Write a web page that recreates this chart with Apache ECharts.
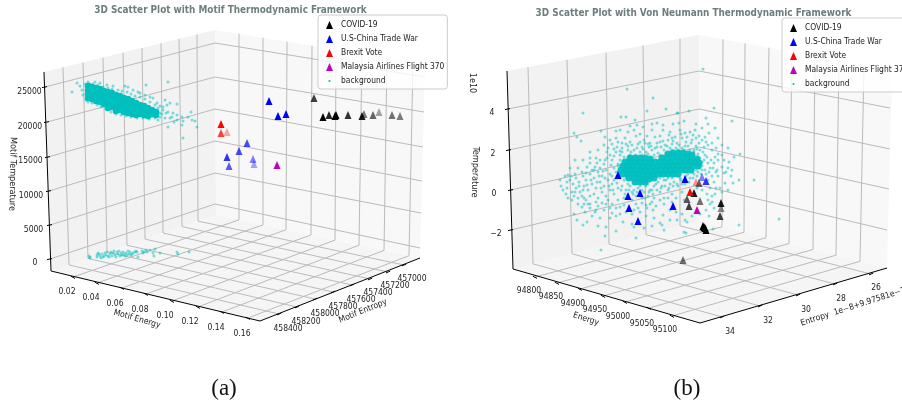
<!DOCTYPE html>
<html><head><meta charset="utf-8">
<style>html,body{margin:0;padding:0;background:#fff;overflow:hidden}#c{width:902px;height:405px}</style>
<script src="https://cdn.jsdelivr.net/npm/echarts@6/dist/echarts.min.js"></script></head>
<body><div id="c"></div>
<script>
// ---------- names and tick labels ----------
const eventNames = ['COVID-19','U.S-China Trade War','Brexit Vote','Malaysia Airlines Flight 370','background'];
const eventColors = ['#000000','#0000ff','#ff0000','#bf00bf','#00bfbf'];
const energyLabelsA = ['0.02','0.04','0.06','0.08','0.10','0.12','0.14','0.16'];
const entropyLabelsA = ['458400','458200','458000','457800','457600','457400','457200','457000'];
const tempLabelsA = ['25000','20000','15000','10000','5000','0'];
const energyLabelsB = ['94800','94850','94900','94950','95000','95050','95100'];
const entropyLabelsB = ['34','32','30','28','26'];
const tempLabelsB = ['4','2','0','\u22122'];

// ---------- values, as [across, down, depth shade] in the view plane ----------
const covidA = [[314,98,.75],[323,117,1],[329,115,.85],[336,115,1],[335,116,1],[348,115,.8],[362,116,.9],[364,114,.5],[373,115,.6],[379,112,.35],[392,115,.55],[400,116,.5]];
const tradeA = [[269,101,1],[278,116,1],[286,114,1],[247,143,.7],[239,151,.7],[227,157,.8],[229,166,.65],[253,159,.5],[254,164,.35]];
const brexitA = [[221,124,1],[221,133,.75],[227,132,.35]];
const mh370A = [[277,165,1]];
const covidB = [[694,193,.9],[687,199,.65],[689,206,.75],[700,201,.55],[699,183,.6],[721,203,.9],[721,208,.45],[720,216,.75],[703,226,1],[705,228,1],[704,227,1],[706,230,1],[683,260,.55]];
const tradeB = [[618,175,1],[628,196,1],[640,193,1],[629,208,1],[638,221,1],[673,206,1],[685,179,1],[702,177,.5],[706,181,.8]];
const brexitB = [[690,192,1],[696,182,.4]];
const mh370B = [[697,210,1]];

const bgCoreA = [[88,86],[88,90],[88,94],[88,98],[92,87],[92,91],[92,95],[92,99],[96,88],[96,92],[96,97],[96,101],[100,89],[100,93],[100,98],[100,102],[104,91],[104,95],[104,100],[104,104],[108,92],[108,96],[108,101],[108,105],[108,108],[112,93],[112,97],[112,103],[112,107],[116,95],[116,100],[116,104],[116,108],[116,111],[120,96],[120,102],[120,106],[120,110],[124,98],[124,104],[124,108],[124,112],[128,99],[128,105],[128,109],[128,113],[132,101],[132,107],[132,111],[132,114],[136,103],[136,108],[136,112],[136,115],[140,105],[140,110],[140,114],[144,106],[144,111],[144,115],[148,108],[148,113],[148,116],[152,110],[152,114],[156,112],[156,115]];
const bgA = [[77,83],[80,86],[72,92],[82,90],[83,95],[88,82],[95,82],[100,83],[107,85],[113,86],[125,86],[128,87],[133,90],[138,92],[146,85],[168,82],[165,100],[167,105],[170,103],[177,104],[163,107],[168,112],[172,117],[177,120],[168,127],[182,117],[183,121],[191,112],[188,117],[195,121],[197,127],[183,138],[192,120],[182,125],[177,115],[173,113],[160,113],[158,108],[157,103],[153,98],[150,97],[145,95],[140,93],[85,84],[90,84],[93,84],[98,85],[103,87],[108,88],[112,89],[118,90],[122,91],[127,92],[131,94],[135,96],[140,97],[145,99],[150,102],[155,105],[160,106],[163,110],[166,113],[170,118],[174,122],[86,100],[88,102],[92,103],[97,105],[101,107],[106,109],[111,112],[116,114],[121,115],[126,116],[131,117],[137,118],[143,118],[149,119],[155,118],[160,117],[165,118],[158,120],[152,116],[157,112],[162,114],
[90,258],[89,256],[90,257],[97,255],[97,257],[98,253],[100,256],[102,254],[103,257],[105,253],[106,255],[107,252],[108,256],[110,254],[111,252],[112,256],[113,253],[115,255],[116,257],[117,252],[118,254],[120,256],[121,253],[122,255],[123,252],[124,254],[126,253],[127,255],[128,251],[129,254],[130,252],[131,255],[133,253],[135,252],[136,251],[137,252],[104,256],[109,257],[114,251],[119,251],[125,256],[132,254],[99,254],[101,258],[138,257],[142,251],[144,252],[146,250],[143,253],[147,252],[150,250],[153,253],[155,249],[154,256],[160,253],[177,252],[178,254],[189,252]];

const bgCoreB = [[668,154],[673,153],[678,153],[683,153],[688,154],[692,155],[630,158],[635,158],[640,158],[645,158],[650,159],[662,158],[667,158],[672,157],[677,157],[682,157],[687,158],[692,158],[697,159],[625,162],[630,162],[635,162],[640,162],[645,163],[650,163],[655,162],[660,162],[665,162],[670,162],[675,162],[680,162],[685,162],[690,162],[695,162],[699,163],[623,166],[628,166],[633,166],[638,166],[643,167],[648,167],[653,167],[658,166],[663,166],[668,166],[673,166],[678,166],[683,166],[688,166],[693,166],[698,166],[621,170],[626,170],[631,170],[636,170],[641,170],[646,171],[651,171],[656,170],[661,170],[666,170],[671,170],[676,170],[681,170],[686,170],[691,170],[623,174],[628,174],[633,174],[638,174],[643,175],[648,175],[653,174],[658,174],[663,174],[668,174],[673,174],[678,174],[629,178],[634,178],[639,178],[644,179],[649,179],[654,178],[635,182],[640,182],[645,182]];
const bgB = [[627,89],[653,98],[583,113],[621,117],[626,117],[647,111],[666,109],[574,133],[577,137],[581,141],[601,131],[605,137],[616,131],[630,126],[637,125],[635,120],[643,127],[652,124],[657,123],[663,130],[670,132],[678,113],[616,138],[625,138],[630,142],[640,142],[647,136],[652,130],[660,136],[672,138],[590,152],[607,152],[617,147],[622,148],[632,145],[642,147],[650,143],[657,143],[665,145],[677,143],[590,163],[587,167],[578,168],[582,172],[568,175],[575,174],[597,163],[605,160],[610,155],[620,155],
[703,69],[714,108],[689,111],[677,113],[706,118],[732,121],[715,128],[709,133],[740,154],[734,157],[729,162],[715,157],[724,173],[725,183],[722,167],[739,180],[754,180],[720,188],[717,170],[714,163],[705,155],[695,130],[685,133],[679,123],[680,130],[690,132],[692,140],[699,143],[704,147],
[739,225],[779,219],[713,229],[710,204],[709,216],[685,220],[687,222],[684,232],[686,233],[677,220],[601,250],[636,238],[616,231],[605,236],[606,227],[598,226],[587,222],[583,225],[577,220],[574,214],[595,212],[585,212],[612,213],[616,216],[623,222],[632,224],[634,227],[660,223],[662,225],[663,215],[647,208],[642,203],[653,210],[582,207],[588,204],[602,203],[620,207],
[570,180],[573,184],[567,188],[576,178],[579,182],[583,176],[586,180],[590,174],[594,178],[598,172],[602,176],[606,170],[610,174],[614,168],[618,164],[572,192],[576,188],[580,192],[584,186],[588,190],[592,184],[596,188],[600,182],[604,186],[608,180],[612,184],[616,178],[578,198],[582,196],[586,200],[590,196],[594,194],[598,198],[602,192],[606,196],[610,190],[614,194],[618,188],[622,186],[626,190],[630,186],[634,190],[638,188],[642,190],[646,186],[650,190],[654,186],[658,182],[662,186],[666,180],[670,184],[674,182],[678,186],[682,184],[686,176],[690,178],[694,174],[698,172],[702,170],[706,174],[710,168],[712,176],[708,163],[704,160],[702,166],[708,180],[714,182],[718,176],[716,188],[710,188],
[604,164],[600,168],[596,158],[612,160],[616,152],[622,152],[628,150],[634,150],[640,152],[646,152],[652,150],[658,153],[664,150],[670,148],[676,148],[682,148],[688,146],[694,150],[700,150],[696,146],[686,142],[672,144],[660,142],[644,140],[636,136],[626,144],[612,144],[608,148],[618,142],[634,130],[648,144],[668,140],[682,138],[696,138],[702,140],[706,142],[712,150],[716,148],[722,155],[726,172],[732,170],[718,160],
[590,204],[596,202],[608,200],[612,204],[618,200],[624,198],[632,200],[636,204],[642,198],[648,196],[654,198],[660,192],[664,198],[668,190],[672,194],[676,198],[682,192],[684,200],[650,204],[656,206],[664,204],[670,210],[676,212],[682,214],[692,216],[700,214],[706,210],[712,196],[714,208],[626,212],[632,214],[640,212],[646,216],[654,218],[620,214],[610,218],[600,218],[592,216],[664,230],[670,220],[652,226],[644,228],[610,208],[604,210],[598,206],[584,198],[574,196],[566,194],[561,186],[570,168],[594,170],[600,160],[612,176],[618,172],[614,180],[620,178],[624,180],[628,184],[632,192],[636,196],[640,186],[644,192],[648,184],[652,190],[656,184],[660,178],[664,180],[668,178],[672,178],[676,176],[680,178],[684,172],[688,174],[692,172],[696,170],[700,168],[702,162],[700,158],[698,154],[694,152],[690,150],[684,150],[678,150],[672,150],[666,153],[660,155],[654,155],[648,154],[642,155],[636,155],[630,155],[624,157],[620,160],[618,166],[616,172],[617,176],[620,174],[626,178],
[631,152],[637,148],[643,149],[649,147],[655,148],[661,147],[667,146],[673,141],[679,145],[685,146],[691,143],[697,149],[703,152],[707,157],[711,160],[713,168],[716,172],[620,151],[614,156],[611,165],[607,158],[603,171],[599,176],[595,167],[591,180],[587,185],[583,190],[579,186],[575,192],[571,176],[567,182],[563,190],[586,173],[592,170],[597,182],[601,188],[605,178],[609,186],[613,190],[617,183],[621,190],[625,194],[629,190],[633,194],[637,192],[641,196],[645,198],[649,192],[653,194],[657,190],[661,188],[665,186],[669,188],[673,186],[677,184],[681,180],[685,184],[689,182],[693,178],[697,176],[701,174],[705,170],[709,172],[638,144],[628,146],[622,143],[614,149],[645,143],[651,146],[657,147],[663,141],[669,135],[675,137],[681,134],[687,137],[693,135],[699,136],[705,137],[708,145],[712,143],[718,154],[724,160],[728,168],[731,176],[733,183],[722,192],[728,190],[715,194],[707,194],[702,190],[697,188],[712,202],[708,200],[668,198],[672,202],[660,200],[652,202],[646,205],[638,208],[634,210],[624,205],[616,208],[606,204],[596,210],[590,208],[584,204],[578,204],[572,200],[568,198],[565,176],[560,180],[575,160],[583,160],[590,158],[598,150],[604,145],[610,140],[620,130],[628,132],[640,134],[655,137],[663,125],[673,124],[684,121],[696,124],[702,128],[708,124],[718,138],[722,145],[728,148]];

// ---------- the drawn box of each panel (view-plane layout, not data) ----------
const boxA = {left:[44,72],back:[215,30],right:[425,64],leftB:[51,271],backB:[216,215],rightB:[420,258],front:[260,321],
  tempL:[[45,87],[47,122],[48,157],[49,191],[50,225],[50,259]],tempM:[[215,43],[215,77],[215,109],[215,141],[215,173],[215,204]],tempR:[[425,77],[424,112],[423,147],[422,181],[421,213],[420,248]],
  entTop:[63,83,103,123,142,161,179,197],entBase:[69,88,107,127,145,163,182,198],entFront:[[279,314],[297,307],[315,299],[333,292],[352,285],[370,279],[388,272],[404,265]],
  enTop:[239,263,287,312,336,362,387,413],enBase:[239,263,286,311,335,359,384,409],enFront:[[73,277],[97,283],[122,288],[146,294],[172,301],[198,307],[222,312],[248,318]]};
const boxB = {left:[507,71],back:[699,35],right:[892,70],leftB:[513,269],backB:[699,221],rightB:[887,268],front:[700,323],
  tempL:[[508,109],[509,150],[511,190],[511,230]],tempM:[[699,71],[699,109],[699,147],[699,185]],tempR:[[890,108],[890,149],[889,189],[887,230]],
  entTop:[528,567,606,643,680],entBase:[533,572,609,646,680],entFront:[[722,317],[760,306],[798,295],[835,284],[871,274]],
  enTop:[723,745,769,792,815,839,864],enBase:[722,744,766,789,813,836,860],enFront:[[535,277],[557,283],[580,289],[603,296],[625,302],[649,308],[672,316]]};

const texts = [];
function addLabels(labels, spots, rot){labels.forEach((t,i)=>texts.push({t, x:spots[i][0], y:spots[i][1], r:rot||0}));}
addLabels(tempLabelsA,[[29.5,92],[30,127],[30.5,161],[31,196],[33.5,230],[35,263]]);
addLabels(energyLabelsA,[[67,292],[91,298],[115,304],[140,310],[165,316],[190,322],[216,328],[242,334]]);
addLabels(entropyLabelsA,[[288,329],[306,322],[325,314],[343,307],[361,300],[378,293],[395,286],[412,279]]);
addLabels(tempLabelsB,[[492,113],[493,154],[494,194],[496,234]]);
addLabels(energyLabelsB,[[529,291],[551,297],[573,304],[595,310],[618,317],[642,324],[665,330]]);
addLabels(entropyLabelsB,[[730,332],[768,321],[806,310],[841,299],[876,288]]);
texts.push({t:'Motif Temperature',x:12.5,y:174,r:-91,s:9});
texts.push({t:'Motif Energy',x:137,y:319,r:-16});
texts.push({t:'Motif Entropy',x:363,y:311,r:22});
texts.push({t:'1e10',x:472,y:83,r:-90,s:9});
texts.push({t:'Temperature',x:475,y:172,r:-92,s:9});
texts.push({t:'Energy',x:586,y:319,r:-18});
texts.push({t:'Entropy',x:815,y:319,r:18});
texts.push({t:'1e\u22128+9.97581e\u22121',x:834,y:313,r:18,align:'left'});

function on(a,b,x){return a[1]+(b[1]-a[1])*(x-a[0])/(b[0]-a[0]);}
function gridPath(b){
  const p=[];const brk=()=>p.push(['-','-']);
  b.tempL.forEach((l,i)=>{p.push(l,b.tempM[i],b.tempR[i]);brk();});
  b.entTop.forEach((x,i)=>{const bx=b.entBase[i];p.push([x,on(b.left,b.back,x)],[bx,on(b.leftB,b.backB,bx)],b.entFront[i]);brk();});
  b.enTop.forEach((x,i)=>{const bx=b.enBase[i];p.push([x,on(b.back,b.right,x)],[bx,on(b.backB,b.rightB,bx)],b.enFront[i]);brk();});
  return p;
}
function axisPath(b,side){
  const p=[];const brk=()=>p.push(['-','-']);
  p.push(b.left,b.leftB,b.front,b.rightB);brk();
  b.tempL.forEach(t=>{p.push([t[0]-3,t[1]+.6],[t[0]+2,t[1]-.4]);brk();});
  b.enFront.forEach(t=>{p.push([t[0]-2.2,t[1]-.8],[t[0]+2,t[1]+1.4]);brk();});
  b.entFront.forEach(t=>{p.push([t[0]+2.2,t[1]-.9],[t[0]-2,t[1]+.9]);brk();});
  return p;
}
function plain(name,data,idx,w,color){
  return {type:'line',name,xAxisIndex:idx,yAxisIndex:idx,data,symbol:'none',silent:true,connectNulls:false,z:2,animation:false,
    lineStyle:{width:w,color},emphasis:{disabled:true},tooltip:{show:false}};
}
function panes(b,idx){
  const polys=[{c:'#f2f2f2',p:[b.left,b.back,b.backB,b.leftB]},{c:'#f8f8f8',p:[b.back,b.right,b.rightB,b.backB]},{c:'#f5f5f5',p:[b.leftB,b.backB,b.rightB,b.front]}];
  return {type:'custom',name:'panes',xAxisIndex:idx,yAxisIndex:idx,silent:true,z:1,clip:false,animation:false,
    data:polys.map((_,i)=>[i,i]),
    renderItem:(params,api)=>{const q=polys[params.dataIndex];
      return {type:'polygon',shape:{points:q.p.map(v=>api.coord(v))},style:{fill:q.c}};}};
}
function events(name,color,rows,idx){
  return {type:'scatter',name,xAxisIndex:idx,yAxisIndex:idx,symbol:'triangle',symbolSize:[7,8],z:6,animation:false,
    itemStyle:{color},
    data:rows.map(r=>({value:[r[0],r[1]],itemStyle:{opacity:r[2]}}))};
}
function dots(rows,idx,size,op,z){
  return {type:'scatter',name:'background',xAxisIndex:idx,yAxisIndex:idx,symbol:'circle',symbolSize:size,z,animation:false,large:false,
    itemStyle:{color:'#00bfbf',opacity:op},data:rows};
}
const FONT='"DejaVu Sans Condensed","DejaVu Sans",sans-serif';
const textSeries={type:'custom',name:'labels',xAxisIndex:0,yAxisIndex:0,silent:true,z:3,clip:false,animation:false,
  data:texts.map(t=>[t.x,t.y]),
  renderItem:(params,api)=>{const t=texts[params.dataIndex];const c=api.coord([t.x,t.y]);
    return {type:'text',x:c[0],y:c[1],rotation:t.r*Math.PI/180,
      style:{text:t.t,font:(t.s||8.5)+'px '+FONT,fill:'#222',align:t.align||'center',verticalAlign:'middle'}};}};
const DOT='path://M0 0M10 10M3.4 5a1.6 1.6 0 1 0 3.2 0a1.6 1.6 0 1 0 -3.2 0z';
function legend(left,top,width){
  return {left,top,orient:'vertical',width,selectedMode:false,itemWidth:7,itemHeight:8,itemGap:4,padding:[5,3,3,8],
    backgroundColor:'rgba(255,255,255,0.8)',borderColor:'#cccccc',borderWidth:1,borderRadius:3,z:20,
    textStyle:{fontFamily:FONT,fontSize:8.4,lineHeight:10,color:'#222',padding:[0,0,0,3]},
    data:eventNames.map((n,i)=>({name:n,icon:i<4?'triangle':DOT,itemStyle:i<4?{opacity:1}:undefined}))};
}
const capStyle={fontFamily:'"Liberation Serif",serif',fontWeight:'normal',fontSize:23,color:'#111'};
const titleStyle={fontFamily:FONT,fontWeight:'bold',fontSize:9.9,color:'#6e7e7e'};
const option={
  animation:false,backgroundColor:'#fff',
  title:[
    {text:'3D Scatter Plot with Motif Thermodynamic Framework',left:230.5,top:5,padding:0,textAlign:'center',textStyle:titleStyle},
    {text:'3D Scatter Plot with Von Neumann Thermodynamic Framework',left:693.5,top:8,padding:0,textAlign:'center',textStyle:titleStyle},
    {text:'(a)',left:224,top:377,padding:0,textAlign:'center',textStyle:capStyle},
    {text:'(b)',left:687,top:377,padding:0,textAlign:'center',textStyle:capStyle}
  ],
  legend:[legend(318,15,129),legend(782,18,140)],
  grid:[{left:0,top:0,width:451,height:405},{left:451,top:0,width:451,height:405}],
  xAxis:[{type:'value',gridIndex:0,min:0,max:451,show:false},{type:'value',gridIndex:1,min:451,max:902,show:false}],
  yAxis:[{type:'value',gridIndex:0,min:0,max:405,inverse:true,show:false},{type:'value',gridIndex:1,min:0,max:405,inverse:true,show:false}],
  series:[
    panes(boxA,0),panes(boxB,1),
    plain('grid',gridPath(boxA),0,1,'#bbbbbb'),plain('grid',gridPath(boxB),1,1,'#bbbbbb'),
    plain('axis',axisPath(boxA),0,1,'#000'),plain('axis',axisPath(boxB),1,1,'#000'),
    textSeries,
    dots(bgCoreA,0,6.5,1,4),dots(bgA,0,3,.5,4),
    dots(bgCoreB,1,7,.95,4),dots(bgB,1,3,.5,4),
    events(eventNames[0],eventColors[0],covidA,0),events(eventNames[1],eventColors[1],tradeA,0),events(eventNames[2],eventColors[2],brexitA,0),events(eventNames[3],eventColors[3],mh370A,0),
    events(eventNames[0],eventColors[0],covidB,1),events(eventNames[1],eventColors[1],tradeB,1),events(eventNames[2],eventColors[2],brexitB,1),events(eventNames[3],eventColors[3],mh370B,1)
  ]
};
echarts.init(document.getElementById('c'),null,{renderer:'canvas'}).setOption(option);
</script></body></html>
